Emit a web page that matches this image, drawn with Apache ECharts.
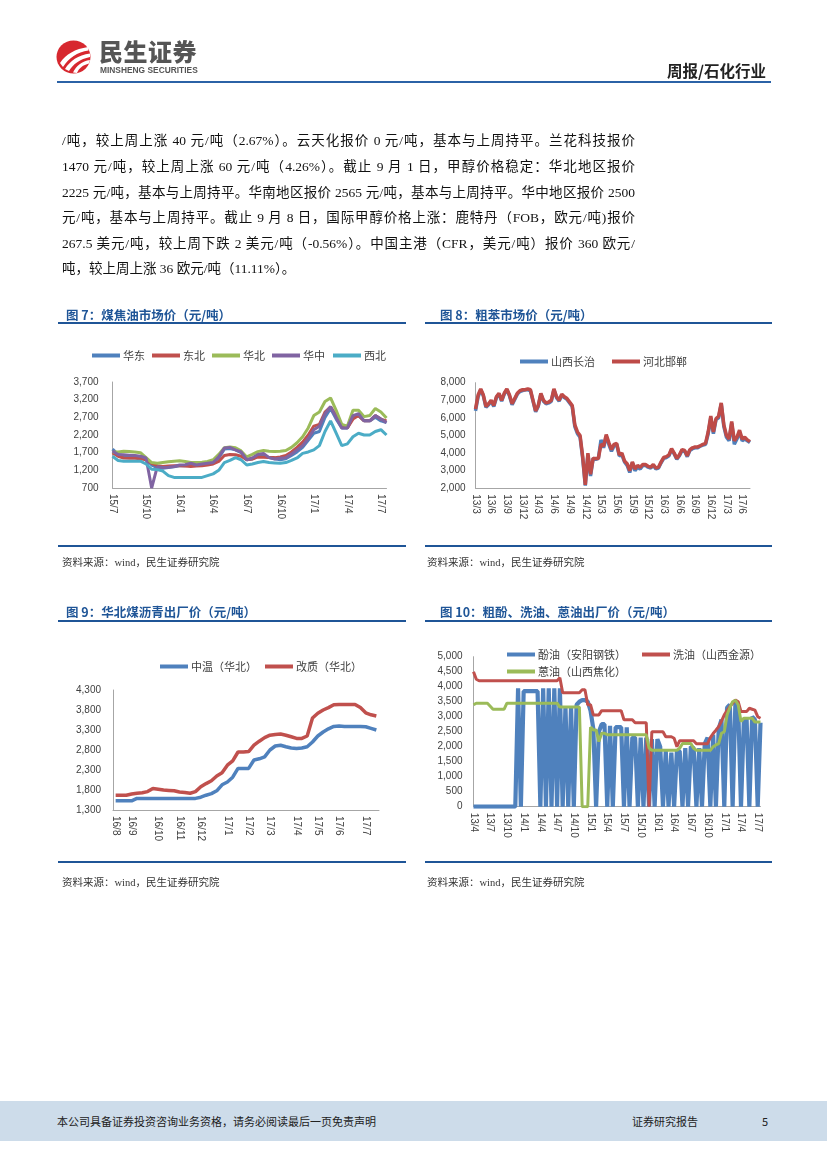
<!DOCTYPE html>
<html><head><meta charset="utf-8">
<script src="https://cdn.jsdelivr.net/npm/echarts/dist/echarts.min.js"></script>
<style>
html,body{margin:0;padding:0;background:#fff;}
#page{position:relative;width:827px;height:1169px;overflow:hidden;background:#fff;}
#chart{position:absolute;left:0;top:0;width:827px;height:1169px;}
.abs{position:absolute;white-space:nowrap;}
.p{position:absolute;left:62px;width:573px;font-size:13.5px;line-height:20px;font-family:"Liberation Serif","Noto Sans CJK SC",serif;color:#111;text-align:justify;text-align-last:justify;}
.t{position:absolute;font-family:"Noto Sans CJK SC",sans-serif;font-weight:bold;font-size:12.5px;color:#1f5597;line-height:16px;white-space:nowrap;}
.ul{position:absolute;height:2px;background:#1f5597;}
.src{position:absolute;font-family:"Liberation Serif","Noto Sans CJK SC",serif;font-size:10.5px;color:#333;line-height:14px;white-space:nowrap;}
</style></head>
<body><div id="page">
<div id="chart"></div>

<svg class="abs" style="left:55px;top:39px" width="38" height="36" viewBox="0 0 38 36">
<ellipse cx="18.5" cy="18" rx="17" ry="16.5" fill="#d7282f"/>
<path d="M5 24 C 11 15, 20 10, 33 8 L 33.5 11.5 C 22 13, 14 19, 8 28 Z" fill="#fff"/>
<path d="M10 30 C 15 22, 23 16, 35 14.5 L 35 18 C 25 20, 18 25, 14 32 Z" fill="#fff"/>
<path d="M18 33.5 C 21 27, 27 22, 35 21 L 34 24.5 C 28 26, 24 29, 22 34 Z" fill="#fff"/>
</svg>
<div class="abs" style="left:99px;top:37px;font-family:'Noto Sans CJK SC';font-weight:900;font-size:24px;line-height:28px;color:#555;letter-spacing:0.5px;">民生证券</div>
<div class="abs" style="left:100px;top:65px;font-family:'Liberation Sans',Arial;font-weight:bold;font-size:8.4px;line-height:10px;color:#555;">MINSHENG SECURITIES</div>
<div class="abs" style="left:667px;top:60px;font-family:'Noto Sans CJK SC';font-weight:bold;font-size:15.5px;line-height:20px;color:#222;">周报/石化行业</div>
<div class="abs" style="left:57px;top:81px;width:714px;height:2px;background:#2b62a6;"></div>

<div class="p" style="top:131px;">/吨，较上周上涨 40 元/吨（2.67%）。云天化报价 0 元/吨，基本与上周持平。兰花科技报价</div>
<div class="p" style="top:157px;">1470 元/吨，较上周上涨 60 元/吨（4.26%）。截止 9 月 1 日，甲醇价格稳定：华北地区报价</div>
<div class="p" style="top:183px;">2225 元/吨，基本与上周持平。华南地区报价 2565 元/吨，基本与上周持平。华中地区报价 2500</div>
<div class="p" style="top:208px;">元/吨，基本与上周持平。截止 9 月 8 日，国际甲醇价格上涨：鹿特丹（FOB，欧元/吨)报价</div>
<div class="p" style="top:234px;">267.5 美元/吨，较上周下跌 2 美元/吨（-0.56%）。中国主港（CFR，美元/吨）报价 360 欧元/</div>
<div class="p" style="top:259px;text-align:left;text-align-last:left;">吨，较上周上涨 36 欧元/吨（11.11%）。</div>

<div class="t" style="left:66px;top:307px;">图 7：煤焦油市场价（元/吨）</div>
<div class="t" style="left:440px;top:307px;">图 8：粗苯市场价（元/吨）</div>
<div class="ul" style="left:58px;top:322px;width:348px;"></div>
<div class="ul" style="left:425px;top:322px;width:347px;"></div>
<div class="ul" style="left:58px;top:545px;width:348px;"></div>
<div class="ul" style="left:425px;top:545px;width:347px;"></div>
<div class="src" style="left:62px;top:556px;">资料来源：wind，民生证券研究院</div>
<div class="src" style="left:427px;top:556px;">资料来源：wind，民生证券研究院</div>

<div class="t" style="left:66px;top:604px;">图 9：华北煤沥青出厂价（元/吨）</div>
<div class="t" style="left:440px;top:604px;">图 10：粗酚、洗油、蒽油出厂价（元/吨）</div>
<div class="ul" style="left:58px;top:620px;width:348px;"></div>
<div class="ul" style="left:425px;top:620px;width:347px;"></div>
<div class="ul" style="left:58px;top:861px;width:348px;"></div>
<div class="ul" style="left:425px;top:861px;width:347px;"></div>
<div class="src" style="left:62px;top:876px;">资料来源：wind，民生证券研究院</div>
<div class="src" style="left:427px;top:876px;">资料来源：wind，民生证券研究院</div>

<div class="abs" style="left:0;top:1101px;width:827px;height:40px;background:#cddcea;"></div>
<div class="abs" style="left:57px;top:1113px;font-family:'Noto Sans CJK SC';font-size:11px;line-height:16px;color:#222;">本公司具备证券投资咨询业务资格，请务必阅读最后一页免责声明</div>
<div class="abs" style="left:632px;top:1113px;font-family:'Noto Sans CJK SC';font-size:11px;line-height:16px;color:#222;">证券研究报告</div>
<div class="abs" style="left:762px;top:1113px;font-family:'Noto Sans CJK SC';font-size:11px;line-height:16px;color:#222;">5</div>
</div>

<script>
// ---------- Chart 7: 煤焦油市场价 (semi-monthly, 2015-07 .. 2017-07) ----------
const c7Start = [2015, 7];
const c7Names = ['华东', '东北', '华北', '华中', '西北'];
const c7Huadong = [1800,1650,1620,1600,1600,1580,1500,1350,1280,1260, 1280,1300,1330,1330,1350,1340,1360,1380,1410,1550, 1800,1820,1780,1700,1500,1520,1600,1620,1560,1530, 1500,1530,1620,1720,1850,2050,2250,2300,2700,2950, 2650,2400,2400,2700,2750,2600,2600,2700,2600,2550];
const c7Dongbei = [1700,1600,1550,1540,1540,1530,1500,1400,1330,1310, 1320,1330,1330,1320,1310,1320,1330,1350,1380,1450, 1620,1650,1640,1600,1500,1520,1580,1570,1560,1560, 1580,1620,1720,1850,2000,2200,2450,2500,2850,3000, 2750,2450,2400,2650,2750,2600,2600,2750,2650,2600];
const c7Huabei = [1720,1720,1740,1730,1720,1700,1560,1420,1400,1420, 1440,1460,1470,1450,1420,1420,1430,1450,1500,1650, 1840,1860,1840,1750,1580,1650,1730,1760,1740,1730, 1740,1760,1850,1980,2150,2400,2750,2850,3150,3250, 2900,2500,2450,2900,2900,2720,2750,2950,2850,2680];
const c7Huazhong = [1750,1650,1640,1630,1620,1600,1550,700,1300,1280, 1290,1310,1350,1360,1400,1350,1380,1400,1420,1580, 1830,1850,1780,1720,1500,1550,1650,1680,1560,1520, 1540,1560,1660,1780,1900,2100,2350,2450,2800,3000, 2700,2400,2400,2750,2800,2600,2600,2750,2650,2550];
const c7Xibei = [1600,1480,1460,1460,1460,1460,1380,1230,1220,1180, 1050,1000,1000,1000,1000,1000,1000,1050,1100,1200, 1420,1480,1560,1500,1350,1380,1420,1450,1420,1410, 1400,1420,1480,1550,1680,1720,1780,1900,2300,2600, 2250,1900,1950,2150,2250,2200,2200,2300,2350,2200];
const c7YTicks = [700,1200,1700,2200,2700,3200,3700];

// ---------- Chart 8: 粗苯市场价 (semi-monthly, 2013-03 .. 2017-07) ----------
const c8Start = [2013, 3];
const c8Names = ['山西长治', '河北邯郸'];
const c8Shanxi = [6400,7200,7600,7250,6600,6750,6950,6650,7150,7350, 6950,7350,7600,7250,6750,7050,7350,7500,7550,7600, 7600,7550,6950,6350,6650,7350,6950,6800,6850,6950, 7600,7150,6950,7300,7150,7050,6850,6650,5500,5100, 4900,3700,2150,3900,2700,3700,3650,3700,4750,4300, 4950,4500,4100,4400,4500,3850,3900,3500,3300,2900, 3450,3000,3200,3100,3300,3300,3200,3150,3300,3100, 3150,3450,3700,3750,3850,4200,3950,3650,3850,4150, 4100,3800,4150,4250,4300,4300,4400,4450,4500,5100, 6000,5100,5900,6000,6800,5500,4900,4700,5700,4500, 4800,5200,4700,4800,4700,4600];
const c8Hebei = [6500,7300,7650,7300,6650,6800,7000,6700,7200,7400, 7000,7400,7650,7300,6800,7100,7400,7550,7600,7600, 7650,7600,7000,6400,6700,7400,7000,6850,6900,7000, 7650,7200,7000,7350,7200,7100,6900,6700,5600,5200, 5000,3800,2200,4000,2800,3700,3700,3700,4500,4400, 5050,4600,4200,4500,4550,3900,4000,3550,3400,3000, 3500,3100,3300,3200,3350,3350,3250,3200,3350,3150, 3200,3500,3750,3800,3900,4250,4000,3700,3900,4200, 4150,3850,4200,4300,4350,4350,4420,4500,4550,5200, 6100,5200,5950,6100,6850,5600,5000,4800,5800,4700, 4900,5300,4800,4900,4750,4650];
const c8YTicks = [2000,3000,4000,5000,6000,7000,8000];

// ---------- Chart 9: 华北煤沥青出厂价 (weekly from 2016-08-12) ----------
const c9Start = '2016-08-12';
const c9Names = ['中温（华北）', '改质（华北）'];
const c9Zhongwen = [1530,1530,1530,1530,1590,1590,1590,1590,1590,1590, 1590,1590,1590,1590,1590,1590,1620,1670,1710,1780, 1930,2000,2120,2340,2340,2340,2550,2580,2630,2800, 2900,2920,2880,2850,2840,2850,2880,3000,3150,3250, 3330,3390,3400,3390,3390,3390,3390,3380,3340,3300];
const c9Gaizhi = [1670,1670,1670,1700,1720,1730,1760,1840,1820,1800, 1790,1780,1750,1740,1720,1760,1880,1960,2030,2150, 2230,2420,2530,2750,2750,2760,2920,3020,3110,3170, 3190,3200,3170,3130,3090,3090,3150,3600,3720,3800, 3860,3930,3940,3940,3940,3940,3860,3730,3680,3650];
const c9YTicks = [1300,1800,2300,2800,3300,3800,4300];

// ---------- Chart 10: 粗酚、洗油、蒽油出厂价 (semi-monthly, 2013-04 .. 2017-07) ----------
const c10Start = [2013, 4];
const c10Names = ['酚油（安阳钢铁）', '洗油（山西金源）', '蒽油（山西焦化）'];
const c10Fenyou = [0,0,0,0,0,0,0,0,0,0, 0,0,0,0,0,0,3950,0,3850,3850, 3850,3850,3850,3850,0,3950,0,3950,0,3950, 0,3950,0,3350,0,3350,0,3400,3500,3550, 3550,3500,3200,2600,0,2500,2750,2750,0,2700, 0,2650,2650,2650,0,2650,0,2300,2300,0, 2300,0,2300,0,2250,0,2250,2000,0,1850, 0,1800,0,1850,1850,0,1950,0,2000,1950, 0,1950,0,2100,2300,0,2400,0,2600,2900, 0,3300,3400,0,3500,3300,0,2800,2950,0, 3000,2900,0,2800];
const c10Xiyou = [4500,4250,4200,4200,4200,4200,4200,4200,4200,4200, 4200,4200,4200,4200,4200,4200,4200,4200,4200,4200, 4200,4200,4200,4200,4200,4200,4200,4200,4200,4200, 4200,4300,3800,3800,3800,3800,3800,3800,3800,3900, 3900,3400,3400,3060,3060,3060,3200,3200,3200,3200, 3200,3200,3200,3200,2900,2900,2900,2900,2800,2800, 2800,2800,2800,0,2500,2500,2500,2500,2500,2330, 2330,2330,2280,2000,2200,2200,2200,2200,2200,2200, 2100,2100,2100,2100,2100,2300,2440,2550,2670,2850, 3060,3200,3340,3450,3560,3500,3170,3170,3170,3280, 3250,3220,3000,2950];
const c10Enyou = [3400,3450,3450,3450,3450,3450,3350,3250,3250,3250, 3250,3250,3450,3450,3450,3450,3450,3450,3450,3450, 3450,3450,3450,3450,3450,3450,3450,3450,3450,3450, 3450,3320,3320,3320,3320,3320,3320,3320,3320,0, 0,0,2650,2560,2560,2170,2450,2450,2400,2400, 2400,2400,2400,2400,2400,2400,2400,2400,2400,2400, 2400,2400,2400,1960,1880,1880,1880,1880,1880,1880, 1880,1880,1880,1880,1950,2110,2110,2110,2110,1950, 1880,1880,1880,1880,1880,1880,2000,2060,2100,2450, 2500,3060,3300,3500,3550,3400,2840,2950,2950,2950, 2950,2820,2820,2820];
const c10YTicks = [0,500,1000,1500,2000,2500,3000,3500,4000,4500,5000];

// ---------- helpers ----------
function semiMonthly(start, n) {
  const out = []; let y = start[0], m = start[1];
  for (let k = 0; k < n; k++) {
    out.push(y + '-' + m + '-' + (k % 2 ? 16 : 1));
    if (k % 2) { m++; if (m > 12) { m = 1; y++; } }
  }
  return out;
}
function weekly(startStr, n) {
  const out = []; const d0 = new Date(startStr + 'T00:00:00Z');
  for (let k = 0; k < n; k++) {
    const d = new Date(d0.getTime() + k * 7 * 86400000);
    out.push(d.getUTCFullYear() + '-' + (d.getUTCMonth() + 1) + '-' + d.getUTCDate());
  }
  return out;
}
const ym = v => { const p = v.split('-'); return (p[0] % 100) + '/' + p[1]; };

const cat7 = semiMonthly(c7Start, c7Huadong.length);
const cat8 = semiMonthly(c8Start, c8Hebei.length);
const cat9 = weekly(c9Start, c9Zhongwen.length);
const cat10 = semiMonthly(c10Start, c10Xiyou.length);

const AXC = '#a6a6a6';
const LBL = { color: '#404040', fontSize: 10, fontFamily: 'Liberation Sans, Arial, sans-serif' };
const fmtNum = v => String(v).replace(/\B(?=(\d{3})+(?!\d))/g, ',');

function xCat(gi, cats, bg, intervalFn) {
  return {
    type: 'category', gridIndex: gi, data: cats, boundaryGap: bg,
    axisLine: { show: true, lineStyle: { color: AXC, width: 1 } },
    axisTick: { show: false }, splitLine: { show: false },
    axisLabel: Object.assign({ interval: intervalFn, formatter: ym, rotate: -90, margin: 6 }, LBL)
  };
}
function yVal(gi, ticks, margin) {
  return {
    type: 'value', gridIndex: gi, min: ticks[0], max: ticks[ticks.length - 1],
    axisLine: { show: true, lineStyle: { color: AXC, width: 1 } },
    axisTick: { show: false }, splitLine: { show: false },
    axisLabel: Object.assign({ customValues: ticks, formatter: fmtNum, margin: margin, showMinLabel: true, showMaxLabel: true }, LBL)
  };
}
function lg(name, left, top) {
  return {
    data: [name], left: left, top: top, padding: 0, itemWidth: 28, itemHeight: 4,
    icon: 'rect', itemGap: 0, selectedMode: false,
    textStyle: { fontSize: 11, color: '#404040', fontFamily: 'Noto Sans CJK SC', padding: [0, 0, 0, -2] }
  };
}
function ln(name, gi, data, color, w) {
  return {
    type: 'line', name: name, xAxisIndex: gi, yAxisIndex: gi, data: data,
    symbol: 'none', showSymbol: false, color: color, silent: true,
    lineStyle: { width: w, color: color, join: 'bevel' }, emphasis: { disabled: true }
  };
}
const every6 = i => i % 6 === 0;
const monthStart9 = i => i === 0 || cat9[i].split('-')[1] !== cat9[i - 1].split('-')[1];

const BLUE = '#4f81bd', RED = '#c0504d', GREEN = '#9bbb59', PURPLE = '#8064a2', CYAN = '#4bacc6';

const option = {
  animation: false,
  grid: [
    { left: 112.5, top: 382, width: 274, height: 106, outerBoundsMode: 'none', containLabel: false },
    { left: 475.5, top: 382.7, width: 274.5, height: 105.6, outerBoundsMode: 'none', containLabel: false },
    { left: 113, top: 690, width: 266, height: 120, outerBoundsMode: 'none', containLabel: false },
    { left: 473.5, top: 656.7, width: 287, height: 150, outerBoundsMode: 'none', containLabel: false }
  ],
  xAxis: [
    xCat(0, cat7, false, every6),
    xCat(1, cat8, false, every6),
    xCat(2, cat9, true, monthStart9),
    xCat(3, cat10, false, every6)
  ],
  yAxis: [
    yVal(0, c7YTicks, 14),
    yVal(1, c8YTicks, 10),
    yVal(2, c9YTicks, 12),
    yVal(3, c10YTicks, 11)
  ],
  legend: [
    lg(c7Names[0], 92, 350), lg(c7Names[1], 152, 350), lg(c7Names[2], 212, 350),
    lg(c7Names[3], 272, 350), lg(c7Names[4], 333, 350),
    lg(c8Names[0], 520, 356), lg(c8Names[1], 612, 356),
    lg(c9Names[0], 160, 661), lg(c9Names[1], 265, 661),
    lg(c10Names[0], 507, 649), lg(c10Names[1], 642, 649), lg(c10Names[2], 507, 666)
  ],
  series: [
    ln(c7Names[0], 0, c7Huadong, BLUE, 3),
    ln(c7Names[1], 0, c7Dongbei, RED, 3),
    ln(c7Names[2], 0, c7Huabei, GREEN, 3),
    ln(c7Names[3], 0, c7Huazhong, PURPLE, 3),
    ln(c7Names[4], 0, c7Xibei, CYAN, 3),
    ln(c8Names[0], 1, c8Shanxi, BLUE, 3.5),
    ln(c8Names[1], 1, c8Hebei, '#be4b48', 3.5),
    ln(c9Names[0], 2, c9Zhongwen, BLUE, 3.5),
    ln(c9Names[1], 2, c9Gaizhi, RED, 3.5),
    ln(c10Names[0], 3, c10Fenyou, BLUE, 4.2),
    ln(c10Names[1], 3, c10Xiyou, RED, 3),
    ln(c10Names[2], 3, c10Enyou, GREEN, 3)
  ]
};
const chart = echarts.init(document.getElementById('chart'), null, { renderer: 'canvas', width: 827, height: 1169 });
chart.setOption(option);
</script>
</body></html>
